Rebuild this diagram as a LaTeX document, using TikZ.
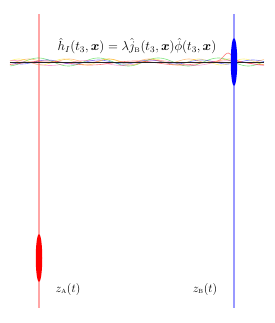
\documentclass[tikz,border=0pt]{standalone}
\usepackage{amsmath,bm}
\usetikzlibrary{shapes.geometric}
\begin{document}
\begin{tikzpicture}[x=1pt,y=-1pt,
  worldline/.style={line width=1.3pt},
  detector/.style={ellipse, draw=none, minimum width=6.5pt, minimum height=48pt, inner sep=0pt},
  wave/.style={line width=0.6pt, opacity=0.5, smooth, samples=150},
  lbl/.style={inner sep=0pt, font=\fontsize{12}{14}\selectfont}]
\useasboundingbox (0,0) rectangle (274,323);
% world lines
\draw[worldline, red!35] (39,14) -- (39,308);
\draw[worldline, blue!40] (234,14) -- (234,308);
% field waves
\draw[wave, green!80!black] plot[domain=10:264] (\x, {62+4*sin(6*\x+40)});
\draw[wave, yellow!90!orange] plot[domain=10:264] (\x, {62+3*sin(8*\x+120)});
\draw[wave, magenta!70] plot[domain=10:264] (\x, {63+2.5*sin(5*\x+200)});
\draw[wave, blue] plot[domain=10:264] (\x, {62+2*sin(7*\x+300)});
\draw[wave, orange] plot[domain=10:264] (\x, {61+2*sin(9*\x+10)});
\draw[wave, red] plot[domain=10:264] (\x, {63+2*sin(4*\x+90)-8*exp(-((\x-228)/6)^2)});
\draw[line width=0.5pt, black!85] (10,62) -- (264,62);
% detectors
\node[detector, fill=red] (A) at (39,258) {};
\node[detector, fill=blue] (B) at (234,62) {};
% labels
\node[lbl, scale=1.09] (h) at (137,46) {$\hat h_I(t_3,\bm{x})=\lambda\hat j_{\scriptscriptstyle\mathrm{B}}(t_3,\bm{x})\hat\phi(t_3,\bm{x})$};
\node[lbl] (za) at (68,289) {$z_{\scriptscriptstyle\mathrm{A}}(t)$};
\node[lbl] (zb) at (205,289) {$z_{\scriptscriptstyle\mathrm{B}}(t)$};
\end{tikzpicture}
\end{document}
